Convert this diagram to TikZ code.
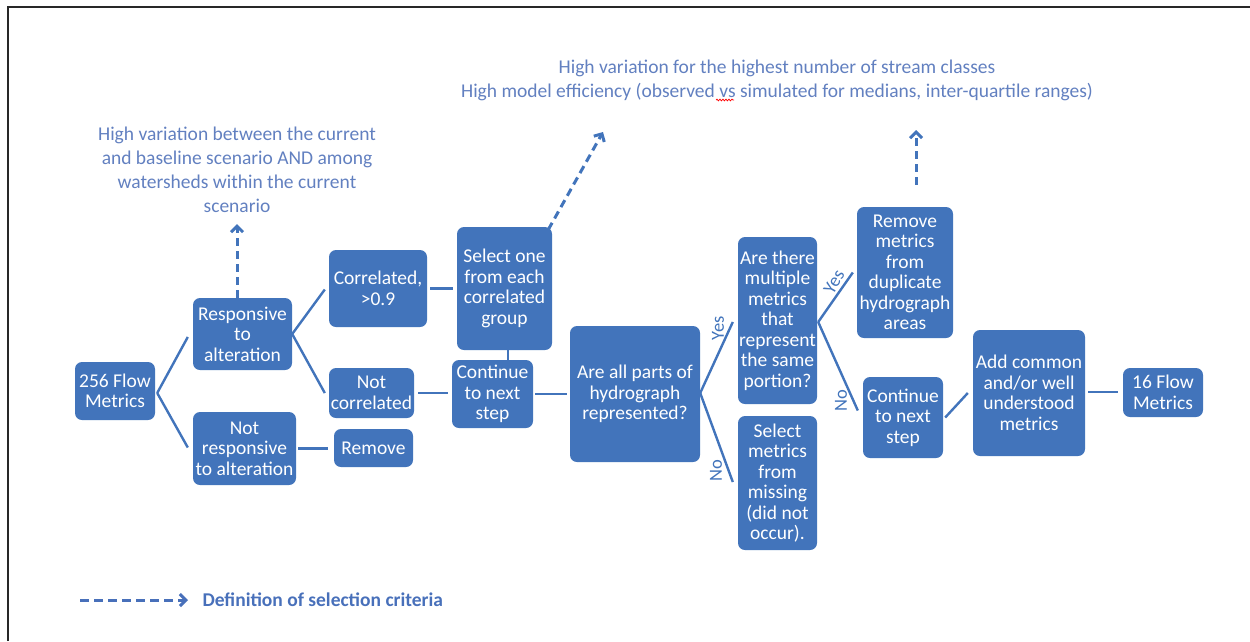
\documentclass[tikz,border=0pt]{standalone}
\usepackage{fontspec}
\setmainfont{Carlito}
\usetikzlibrary{arrows.meta,decorations.pathmorphing}

\definecolor{boxblue}{RGB}{66,116,187}
\definecolor{noteblue}{RGB}{98,128,192}
\definecolor{legblue}{RGB}{72,112,186}
\definecolor{frame}{RGB}{40,40,40}

\tikzset{
  box/.style={fill=boxblue, rounded corners=7pt, text=white, align=center,
    inner sep=0pt, font=\fontsize{19.5}{20.5}\selectfont},
  conn/.style={draw=boxblue, line width=2.4pt},
  crit/.style={draw=boxblue, line width=3pt, dash pattern=on 8pt off 5pt,
    -{Straight Barb[length=6pt,width=12pt,line width=3pt]}},
  note/.style={text=noteblue, align=center, font=\fontsize{19.5}{24}\selectfont},
  yn/.style={text=boxblue, font=\fontsize{18.5}{18.5}\selectfont, inner sep=0pt}
}

\begin{document}
\begin{tikzpicture}[x=1pt,y=-1pt]
\useasboundingbox (0,0) rectangle (1250,641);

% frame lines
\draw[frame, line width=1.6pt] (8,641) -- (8,7) -- (1250,7);

% process boxes
\node[box, minimum width=80pt, minimum height=58pt] (m256) at (115,391) {256 Flow\\Metrics};
\node[box, minimum width=99pt, minimum height=72pt] (resp) at (242.5,334) {Responsive\\to\\alteration};
\node[box, minimum width=103pt, minimum height=73pt] (notresp) at (244.5,448.5) {Not\\responsive\\to alteration};
\node[box, minimum width=98pt, minimum height=77pt] (corr) at (378,288.5) {Correlated,\\>0.9};
\node[box, minimum width=85pt, minimum height=50pt] (notcorr) at (371.5,393) {Not\\correlated};
\node[box, minimum width=79pt, minimum height=38pt] (remove) at (373.5,448) {Remove};
\node[box, minimum width=95pt, minimum height=123pt] (select) at (504.5,288.5) {Select one\\from each\\correlated\\group};
\node[box, minimum width=81pt, minimum height=68pt] (cont1) at (492.5,394) {Continue\\to next\\step};
\node[box, minimum width=130pt, minimum height=136pt] (allparts) at (635,394) {Are all parts of\\hydrograph\\represented?};
\node[box, minimum width=79pt, minimum height=167pt] (multi) at (777.5,320.5) {Are there\\multiple\\metrics\\that\\represent\\the same\\portion?};
\node[box, minimum width=79pt, minimum height=134pt] (missing) at (777.5,483) {Select\\metrics\\from\\missing\\(did not\\occur).};
\node[box, minimum width=96pt, minimum height=131pt] (dup) at (905,272.5) {Remove\\metrics\\from\\duplicate\\hydrograph\\areas};
\node[box, minimum width=80pt, minimum height=81pt] (cont2) at (903,417.5) {Continue\\to next\\step};
\node[box, minimum width=112pt, minimum height=126pt] (addc) at (1029,393) {Add common\\and/or well\\understood\\metrics};
\node[box, minimum width=80pt, minimum height=49pt] (m16) at (1163,392.5) {16 Flow\\Metrics};

% solid connectors
\coordinate (fan1) at ([xshift=2pt,yshift=-2pt]m256.east);
\draw[conn] (fan1) -- ([xshift=-5pt,yshift=-3pt]resp.west);
\draw[conn] (fan1) -- ([xshift=-5pt,yshift=1pt]notresp.west);
\draw[conn] (resp.east) -- ([xshift=-4pt,yshift=-1pt]corr.west);
\draw[conn] (resp.east) -- ([xshift=-4pt]notcorr.west);
\draw[conn, shorten <=2pt, shorten >=6pt] (notresp.east) -- (notresp.east -| remove.west);
\draw[conn, shorten <=3pt, shorten >=4pt] (corr.east) -- (select.west);
\draw[conn, shorten <=4pt, shorten >=4pt] (notcorr.east) -- (notcorr.east -| cont1.west);
\draw[conn] ([xshift=3.5pt]select.south) -- ([xshift=3.5pt]select.south |- cont1.north);
\draw[conn, shorten <=2pt, shorten >=3pt] (cont1.east) -- (allparts.west);
\draw[conn] ([yshift=1pt]allparts.east) -- ([xshift=-5pt,yshift=-1.5pt]multi.west);
\draw[conn] ([yshift=1pt]allparts.east) -- ([xshift=-5pt,yshift=1pt]missing.west);
\draw[conn] ([xshift=1pt,yshift=-1.5pt]multi.east) -- ([xshift=-4pt]dup.west);
\draw[conn] ([xshift=1pt,yshift=-1.5pt]multi.east) -- ([xshift=-5pt,yshift=7pt]cont2.west);
\draw[conn] ([xshift=2pt]cont2.east) -- ([xshift=-5pt]addc.west);
\draw[conn, shorten <=3pt, shorten >=5pt] ([yshift=1pt]addc.east) -- ([yshift=1pt]addc.east -| m16.west);

% branch labels
\node[yn, rotate=90] (yes1) at (718,328) {Yes};
\node[yn, rotate=90] (no1) at (716,471) {No};
\node[yn, rotate=60] (yes2) at (834,282) {Yes};
\node[yn, rotate=90] (no2) at (841,401) {No};

% selection criteria
\coordinate (critA) at (237,224);
\coordinate (critB) at (603,132);
\coordinate (critC) at (916,130);
\draw[crit] (resp.north -| critA) -- (critA);
\draw[crit] ([xshift=-4pt,yshift=-3pt]select.north east) -- (critB);
\draw[crit] ([xshift=11pt,yshift=22pt]dup.north) -- (critC);

\node[note] (noteA) at (237,169.5) {High variation between the current\\and baseline scenario AND among\\watersheds within the current\\scenario};
\node[note] (noteB) at (777,80) {High variation for the highest number of stream classes\\High model efficiency (observed vs simulated for medians, inter-quartile ranges)};
\draw[red, line width=0.7pt, decorate, decoration={snake, amplitude=0.9pt, segment length=3pt}] (716,100) -- (734,100);

% legend
\coordinate (legS) at (80,600);
\coordinate (legE) at (188,600);
\draw[draw=legblue, line width=3pt, dash pattern=on 9pt off 5pt,
  -{Straight Barb[length=6pt,width=12pt,line width=3pt]}] (legS) -- (legE);
\node[anchor=west, text=legblue, font=\fontsize{19.5}{19.5}\selectfont\bfseries] (legT) at (199,600) {Definition of selection criteria};
\end{tikzpicture}
\end{document}
